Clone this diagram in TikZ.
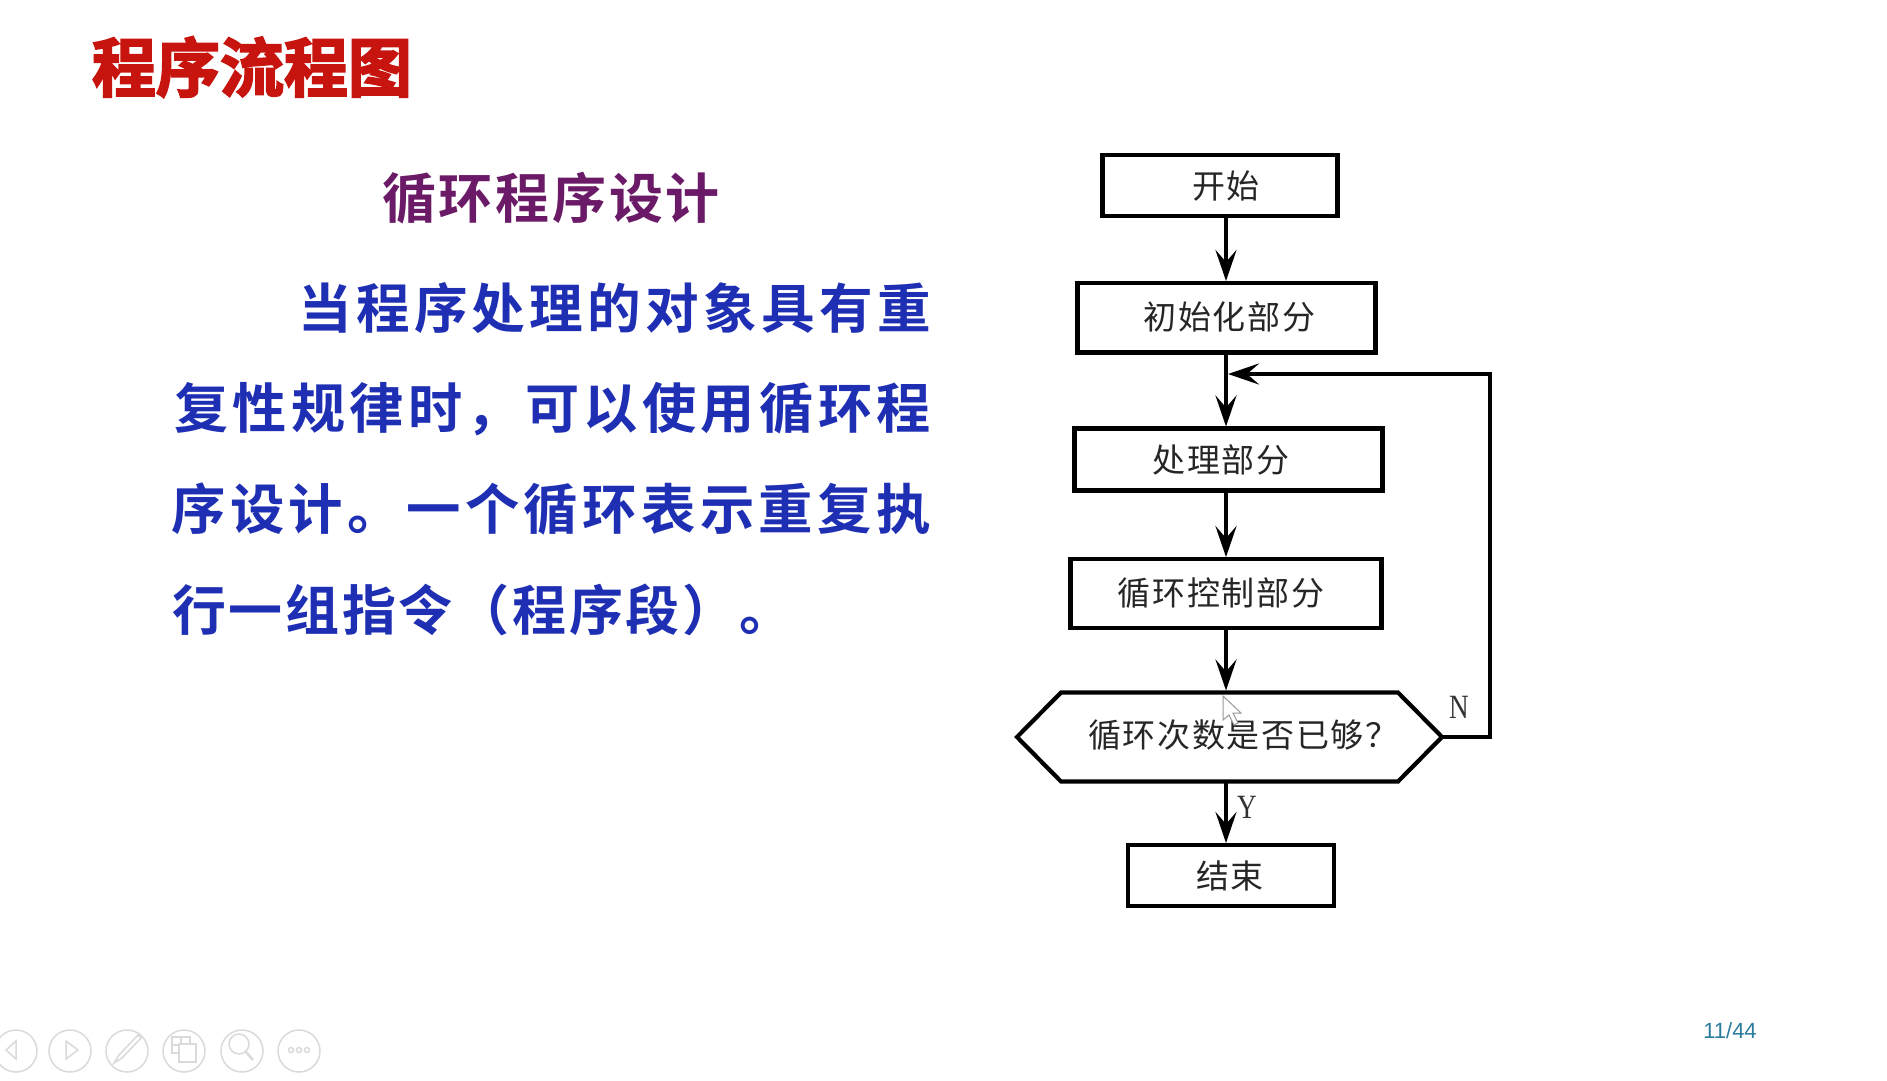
\documentclass[tikz,border=0pt]{standalone}
\usepackage{fontspec}
\usetikzlibrary{arrows.meta}
\setmainfont{Liberation Serif}
\newfontfamily\cjkl[LetterSpace=5]{Noto Sans CJK SC}
\newfontfamily\cjkb[LetterSpace=8]{Noto Sans CJK SC Bold}
\newfontfamily\cjkh[LetterSpace=5]{Noto Sans CJK SC Bold}
\newfontfamily\cjkq[FakeBold=3]{Noto Sans CJK SC Bold}
\newfontfamily\pgfont{Liberation Sans}
\definecolor{titlered}{HTML}{C8140F}
\definecolor{headpurple}{HTML}{6A1A66}
\definecolor{bodyblue}{HTML}{1E2FB4}
\definecolor{numteal}{HTML}{2A7C9C}
\definecolor{toolgray}{HTML}{DADADA}
\tikzset{
  x=1pt,y=-1pt,
  boxnode/.style={draw=black,line width=4.2pt,rectangle,inner sep=0pt,outer sep=0pt},
  hexframe/.style={rectangle,inner sep=0pt,outer sep=0pt},
  hexline/.style={draw=black,line width=4.2pt,line join=miter},
  flowtext/.style={font=\cjkl\fontsize{33}{33}\selectfont,text=black!85,inner sep=0pt},
  bodytext/.style={text=bodyblue,inner sep=0pt},
  link/.style={line width=4.2pt,draw=black,-{Stealth[length=31pt,width=21pt,inset=12pt]},shorten >=2pt},
  yn/.style={font=\fontsize{34}{34}\selectfont,text=black!80,inner sep=0pt,xscale=.8},
  tool/.style={draw=toolgray,line width=1.5pt,circle,minimum size=42pt,inner sep=0pt},
  toolline/.style={draw=toolgray,line width=1.5pt},
}
\begin{document}
\begin{tikzpicture}
\useasboundingbox (0,0) rectangle (1887,1080);
\fill[white] (0,0) rectangle (1887,1080);
% title
\node[font=\cjkq\fontsize{64}{64}\selectfont,text=titlered,inner sep=0pt] (title) at (252,67) {程序流程图};
\node[font=\cjkh\fontsize{54}{54}\selectfont,text=headpurple,inner sep=0pt] (head) at (551,198) {循环程序设计};
% body
\node[bodytext,anchor=east,font=\cjkb\fontsize{53.6}{54}\selectfont] (l1) at (931,308) {当程序处理的对象具有重};
\node[bodytext,anchor=east,font=\cjkb\fontsize{54.2}{54}\selectfont] (l2) at (931,409) {复性规律时，可以使用循环程};
\node[bodytext,anchor=east,font=\cjkb\fontsize{54.4}{54}\selectfont] (l3) at (931,509) {序设计。一个循环表示重复执};
\node[bodytext,anchor=west,font=\cjkh\fontsize{54}{54}\selectfont] (l4) at (172,610) {行一组指令（程序段）。};
% flow boxes
\node[boxnode,minimum width=235pt,minimum height=61pt] (start) at (1220,185.3) {};
\node[boxnode,minimum width=298pt,minimum height=69.4pt] (init) at (1226.5,317.7) {};
\node[boxnode,minimum width=308pt,minimum height=62pt] (proc) at (1228.5,459.5) {};
\node[boxnode,minimum width=311pt,minimum height=68.6pt] (ctrl) at (1226,593.4) {};
\node[hexframe,minimum width=425pt,minimum height=89pt] (dec) at (1229.5,737) {};
\draw[hexline] (dec.west) -- ([xshift=44pt]dec.north west) -- ([xshift=-44pt]dec.north east) -- (dec.east) -- ([xshift=-44pt]dec.south east) -- ([xshift=44pt]dec.south west) -- cycle;
\node[boxnode,minimum width=206pt,minimum height=61pt] (stop) at (1231,875.5) {};
% labels
\node[flowtext] (tstart) at (1226,186) {开始};
\node[flowtext] (tinit) at (1229.5,316.6) {初始化部分};
\node[flowtext] (tproc) at (1221,459.6) {处理部分};
\node[flowtext] (tctrl) at (1221,592.6) {循环控制部分};
\node[flowtext] (tdec) at (1243.4,735.4) {循环次数是否已够？};
\node[flowtext] (tstop) at (1230,876) {结束};
\node[yn] (ly) at (1247,807) {Y};
\node[yn] (ln) at (1459,707) {N};
% connectors
\coordinate (spine) at (1226,0);
\draw[link] (start.south -| spine) -- (init.north -| spine);
\draw[link] (init.south -| spine) -- (proc.north -| spine);
\draw[link] (proc.south -| spine) -- (ctrl.north -| spine);
\draw[link] (ctrl.south -| spine) -- (dec.north -| spine);
\draw[link] (dec.south -| spine) -- (stop.north -| spine);
\coordinate (backin) at (1226,374);
\coordinate (backcorner) at (1490,374);
\draw[link] (dec.east) -| (backcorner) -- (backin);
% cursor
\draw[draw=gray!80,fill=white,line width=1pt] (1223,696) -- ++(0,24) -- ++(6,-5) -- ++(5,10) -- ++(4,-2) -- ++(-5,-10) -- ++(8,0) -- cycle;
% toolbar
\node[tool] (t1) at (16,1051) {};
\node[tool] (t2) at (70,1051) {};
\node[tool] (t3) at (127,1051) {};
\node[tool] (t4) at (184,1051) {};
\node[tool] (t5) at (242,1051) {};
\node[tool] (t6) at (299,1051) {};
\draw[toolline] (16,1041) -- (6,1050) -- (16,1059) -- cycle;
\draw[toolline] (66,1041) -- (78,1050) -- (66,1059) -- cycle;
\draw[toolline] (114,1063) -- (119,1055) -- (138,1035) -- (141,1038) -- (122,1058) -- cycle;
\draw[toolline] (172,1037) rectangle (190,1053) (181,1037) -- (181,1053) (172,1045) -- (190,1045);
\draw[toolline,fill=white] (179,1044) rectangle (196,1062);
\draw[toolline] (239,1044) circle (10pt);
\draw[toolline,line width=2.5pt] (246,1052) -- (253,1060);
\draw[toolline] (291,1050) circle (2.5pt) (299,1050) circle (2.5pt) (307,1050) circle (2.5pt);
% page number
\node[font=\pgfont\fontsize{22}{22}\selectfont,text=numteal,inner sep=0pt] (pg) at (1730,1031) {11/44};
\end{tikzpicture}
\end{document}
